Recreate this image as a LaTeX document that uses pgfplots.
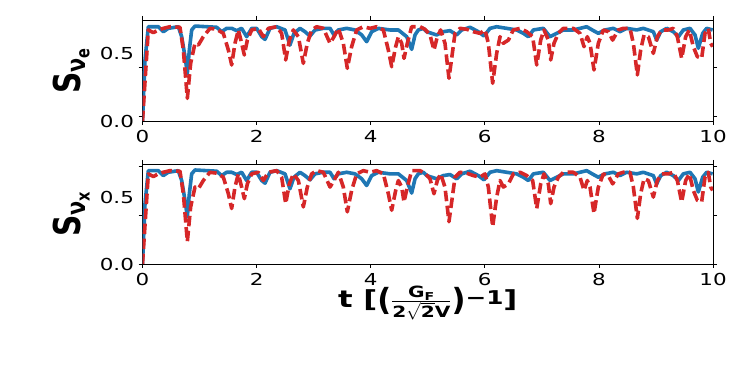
\documentclass[border=0pt]{standalone}
\usepackage{fontspec}
\setmainfont{DejaVu Sans}
\newfontfamily\tickfont{DejaVu Sans}[FakeStretch=1.3]
\newfontfamily\xlabfont{DejaVu Sans}[FakeStretch=1.3]
\newfontfamily\ylabfont{DejaVu Sans}[FakeStretch=0.8]
\usepackage{graphicx}
\usepackage{pgfplots}
\usepackage{pgfplotstable}
\pgfplotsset{compat=1.18}
\definecolor{cblue}{HTML}{1F77B4}
\definecolor{cred}{HTML}{D62728}

% entropy curves (both panels look the same)
\pgfplotstableread{
x y
0 0
0.044 0.453
0.102 0.700
0.278 0.700
0.365 0.663
0.453 0.688
0.628 0.700
0.687 0.626
0.745 0.478
0.786 0.354
0.821 0.527
0.862 0.676
0.920 0.705
1.300 0.696
1.388 0.663
1.475 0.688
1.563 0.688
1.651 0.671
1.738 0.688
1.826 0.626
1.914 0.688
2.001 0.688
2.089 0.626
2.148 0.606
2.235 0.688
2.352 0.700
2.498 0.676
2.585 0.564
2.655 0.651
2.761 0.688
2.848 0.663
2.936 0.631
3.024 0.676
3.170 0.688
3.287 0.688
3.357 0.639
3.433 0.676
3.579 0.688
3.725 0.676
3.842 0.639
3.929 0.589
4.017 0.663
4.134 0.688
4.338 0.676
4.485 0.676
4.631 0.626
4.718 0.532
4.777 0.639
4.835 0.676
4.923 0.688
4.981 0.663
5.156 0.639
5.273 0.663
5.390 0.671
5.507 0.639
5.595 0.676
5.741 0.696
5.887 0.663
5.986 0.631
6.091 0.688
6.208 0.700
6.383 0.688
6.559 0.676
6.676 0.651
6.764 0.626
6.851 0.676
7.026 0.688
7.143 0.626
7.260 0.651
7.377 0.676
7.552 0.676
7.669 0.688
7.786 0.700
7.903 0.671
7.990 0.651
8.107 0.676
8.253 0.688
8.370 0.663
8.487 0.688
8.662 0.676
8.779 0.688
8.954 0.663
9.013 0.601
9.083 0.663
9.188 0.688
9.305 0.663
9.393 0.626
9.480 0.676
9.597 0.688
9.685 0.639
9.743 0.540
9.819 0.651
9.889 0.688
9.994 0.676
}\blueS

\pgfplotstableread{
x y
0 0
0.102 0.676
0.190 0.656
0.278 0.676
0.365 0.688
0.482 0.700
0.657 0.696
0.716 0.527
0.786 0.168
0.844 0.428
0.920 0.577
0.979 0.564
1.066 0.626
1.183 0.688
1.300 0.681
1.417 0.651
1.505 0.527
1.563 0.416
1.621 0.577
1.680 0.676
1.738 0.577
1.785 0.490
1.838 0.601
1.914 0.676
2.031 0.688
2.118 0.626
2.206 0.688
2.352 0.700
2.439 0.651
2.510 0.453
2.574 0.601
2.644 0.676
2.732 0.626
2.819 0.428
2.889 0.577
2.965 0.676
3.053 0.700
3.170 0.688
3.287 0.577
3.357 0.626
3.433 0.688
3.520 0.577
3.590 0.391
3.666 0.552
3.754 0.676
3.871 0.700
3.988 0.688
4.105 0.700
4.222 0.676
4.309 0.527
4.368 0.403
4.438 0.552
4.485 0.626
4.543 0.577
4.584 0.465
4.642 0.577
4.718 0.700
4.864 0.700
4.952 0.681
5.039 0.639
5.109 0.527
5.168 0.626
5.226 0.676
5.302 0.577
5.372 0.317
5.431 0.502
5.478 0.651
5.565 0.688
5.683 0.681
5.799 0.663
5.916 0.651
6.004 0.676
6.062 0.577
6.138 0.280
6.208 0.502
6.267 0.626
6.325 0.577
6.413 0.601
6.500 0.676
6.618 0.688
6.735 0.663
6.839 0.626
6.910 0.416
6.980 0.601
7.038 0.676
7.114 0.601
7.155 0.453
7.213 0.577
7.289 0.651
7.377 0.688
7.552 0.688
7.669 0.651
7.739 0.552
7.797 0.626
7.844 0.577
7.914 0.379
7.990 0.577
8.078 0.676
8.165 0.663
8.241 0.601
8.341 0.676
8.428 0.688
8.545 0.688
8.604 0.577
8.674 0.342
8.732 0.527
8.791 0.639
8.867 0.626
8.954 0.502
9.024 0.626
9.101 0.676
9.218 0.676
9.305 0.688
9.375 0.626
9.451 0.465
9.521 0.626
9.585 0.676
9.655 0.552
9.725 0.478
9.801 0.465
9.860 0.651
9.918 0.688
9.959 0.577
9.994 0.552
}\redS

\pgfplotsset{
  spanel/.style={
    scale only axis, width=570.5pt, anchor=south west,
    xmin=0, xmax=10, ymin=0, ymax=0.75,
    axis line style={black, line width=0.8pt},
    tick style={black, line width=0.8pt}, major tick length=4pt, tick align=outside,
    xtick={0,2,4,6,8,10}, xticklabels={0,2,4,6,8,10},
    ticklabel style={font=\tickfont\fontsize{16.5}{18}\selectfont},
    xticklabel style={yshift=-2pt},
    yticklabel style={xshift=-5pt},
    yticklabels={,,},
    extra y ticks={0,0.5}, extra y tick labels={0.0,0.5},
    extra y tick style={major tick length=0pt},
    ylabel style={at={(axis description cs:-0.125,0.5)}, anchor=center},
  },
  blueline/.style={cblue, line width=3.6pt, line join=round},
  redline/.style={cred, line width=3.6pt, dash pattern=on 10.5pt off 4.5pt, line join=round},
}

\begin{document}
\begin{tikzpicture}
\useasboundingbox (0,0) rectangle (747pt,366pt);

\begin{axis}[spanel, at={(142.5pt,245pt)}, height=101pt,
  ytick={0.032,0.398,0.755},
  ylabel={\ylabfont\fontsize{37}{40}\selectfont\bfseries S\textsubscript{ν\textsubscript{e}}}]
  \addplot[blueline] table[x=x, y=y] {\blueS};
  \addplot[redline] table[x=x, y=y] {\redS};
\end{axis}

\begin{axis}[spanel, at={(142.5pt,102pt)}, height=100pt,
  ytick={0,0.366,0.733},
  ylabel={\ylabfont\fontsize{37}{40}\selectfont\bfseries S\textsubscript{ν\textsubscript{x}}},
  xlabel style={at={(axis description cs:0.5,-0.39)}, anchor=center},
  xlabel={\xlabfont\fontsize{23.5}{28}\selectfont\bfseries t [\raisebox{-3pt}{\scalebox{1}[1.3]{(}}$\frac{\mbox{\xlabfont\bfseries\fontsize{15.5}{17}\selectfont G\textsubscript{F}}}{\mbox{\xlabfont\bfseries\fontsize{15.5}{17}\selectfont 2}\sqrt{\mbox{\xlabfont\bfseries\fontsize{15.5}{17}\selectfont 2}}\mbox{\xlabfont\bfseries\fontsize{15.5}{17}\selectfont V}}$\raisebox{-3pt}{\scalebox{1}[1.3]{)}}\raisebox{3pt}{\fontsize{19}{20}\selectfont −1}]}]
  \addplot[blueline] table[x=x, y=y] {\blueS};
  \addplot[redline] table[x=x, y=y] {\redS};
\end{axis}
\end{tikzpicture}
\end{document}
